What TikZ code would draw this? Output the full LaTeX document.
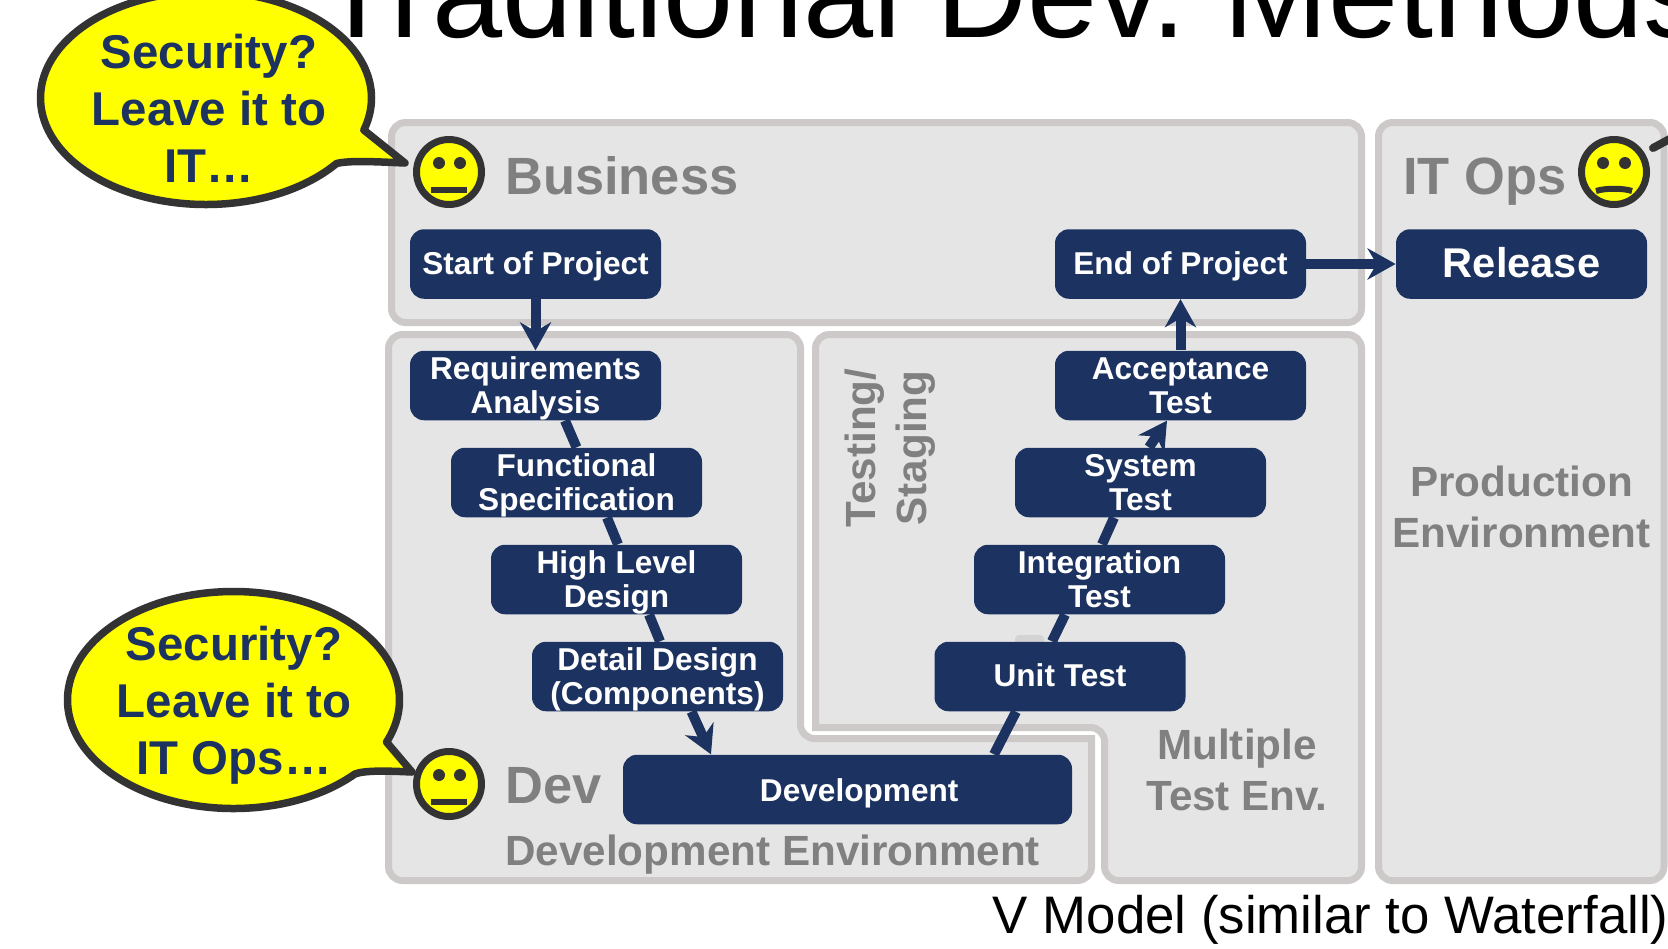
\documentclass[tikz,border=0pt]{standalone}
\usepackage{fontspec}
\setmainfont{Liberation Sans}
\usetikzlibrary{arrows.meta}
\definecolor{navy}{HTML}{1C3260}
\definecolor{panelfill}{HTML}{E5E5E5}
\definecolor{panelline}{HTML}{CDC9C9}
\definecolor{greytext}{HTML}{808080}
\definecolor{dark}{HTML}{333333}
\definecolor{bubbleyellow}{HTML}{FFFF00}
\newcommand{\lt}{\rule{0pt}{15.2pt}}
\newcommand{\lb}{\rule[-4pt]{0pt}{4pt}}
\newcommand{\lo}{\rule[-4pt]{0pt}{18pt}}
\tikzset{
  x=0.5pt,y=-0.5pt,
  panel/.style={draw=panelline,fill=panelfill,line width=3.5pt,rounded corners=7pt},
  stepbox/.style={fill=navy,text=white,font=\fontsize{15.8}{17}\selectfont\bfseries,align=center,rounded corners=7pt,
    minimum width=125.5pt,minimum height=34.75pt,inner xsep=0pt,inner ysep=-2pt,anchor=center},
  conn/.style={draw=navy,line width=5pt},
  arrowconn/.style={conn,-{Stealth[length=14pt,width=15.5pt,inset=4.5pt]}},
  lbl/.style={text=greytext,font=\fontsize{26.2}{30}\selectfont\bfseries,inner sep=0pt},
  envlbl/.style={text=greytext,font=\fontsize{21.1}{25.5}\selectfont\bfseries,inner sep=0pt,align=center},
  bubble/.style={draw=dark,fill=bubbleyellow,line width=3.75pt,line join=round},
  bubbletext/.style={text=navy,font=\fontsize{23.7}{28.5}\selectfont\bfseries,align=center,inner sep=0pt},
  face/.style={draw=dark,fill=bubbleyellow,line width=3.5pt},
  facepart/.style={fill=dark},
  mouth/.style={draw=dark,line width=3pt},
}
\begin{document}
\begin{tikzpicture}
\useasboundingbox (0,0) rectangle (1668,948);
\clip (0,0) rectangle (1668,948);
% title
\node[anchor=base west,inner sep=0pt,font=\fontsize{63}{70}\selectfont] (title) at (318,37) {Traditional Dev.\hspace{-4.8pt} Methods};
\node[anchor=base east,inner sep=0pt,font=\fontsize{26.4}{30}\selectfont] (vmodel) at (1669,933) {V Model (similar to Waterfall)};
% panels
\draw[panel] (391.5,122.5) rectangle (1361.5,322.5);
\draw[panel] (1378.5,122.5) rectangle (1664,880.5);
\draw[panel] (388.5,334.5) -- (800.5,334.5) -- (800.5,738.5) [sharp corners] -- (1091.5,738.5) [rounded corners=7pt] -- (1091.5,880.5) -- (388.5,880.5) -- cycle;
\draw[panel] (815.5,334.5) -- (1361.5,334.5) -- (1361.5,880.5) -- (1104.5,880.5) -- (1104.5,727.5) [sharp corners] -- (815.5,727.5) [rounded corners=7pt] -- cycle;
\fill[panelfill!92!black,rounded corners=2pt] (1015,635) rectangle (1044,645);
% step boxes
\node[stepbox] (start) at (535.5,264) {\lo Start of Project};
\node[stepbox] (req) at (535.5,385.5) {\lt Requirements\\Analysis\lb};
\node[stepbox] (func) at (576.5,482.5) {\lt Functional\\Specification\lb};
\node[stepbox] (high) at (616.5,579.5) {\lt High Level\\Design\lb};
\node[stepbox] (detail) at (657.5,676.5) {\lt Detail Design\\(Components)\lb};
\node[stepbox,minimum width=224.5pt] (dev) at (847.5,789.5) {\hspace*{11.7pt}\rule[-4pt]{0pt}{20pt}Development};
\node[stepbox] (unit) at (1060,676.5) {\lo Unit Test};
\node[stepbox] (integ) at (1099.5,579.5) {\lt Integration\\Test\lb};
\node[stepbox] (sys) at (1140.5,482.5) {\lt System\\Test\lb};
\node[stepbox] (accept) at (1180.5,385.5) {\lt Acceptance\\Test\lb};
\node[stepbox] (endp) at (1180.5,264) {\lo End of Project};
\node[stepbox,font=\fontsize{20.8}{24}\selectfont\bfseries] (release) at (1521.5,264) {\rule[-2pt]{0pt}{16pt}Release};
% connectors
\draw[arrowconn] (start.south) -- (req.north);
\draw[conn] ([xshift=14.75pt]req.south) -- ([xshift=0pt]func.north);
\draw[conn] ([xshift=15.25pt]func.south) -- ([xshift=0.75pt]high.north);
\draw[conn] ([xshift=16.25pt]high.south) -- ([xshift=1.25pt]detail.north);
\draw[arrowconn] ([xshift=17pt]detail.south) -- ([xshift=-68.25pt]dev.north);
\draw[conn] ([xshift=73.25pt]dev.north) -- ([xshift=-22pt]unit.south);
\draw[conn] ([xshift=-4pt]unit.north) -- ([xshift=-17.25pt]integ.south);
\draw[conn] ([xshift=1.25pt]integ.north) -- ([xshift=-13.25pt]sys.south);
\draw[arrowconn] ([xshift=4.25pt]sys.north) -- ([xshift=-6.75pt]accept.south);
\draw[arrowconn] (accept.north) -- (endp.south);
\draw[arrowconn] (endp.east) -- (release.west);
% panel labels
\node[lbl,anchor=base west] (business) at (505,194) {Business};
\node[lbl,anchor=base west] (itops) at (1403,194) {IT Ops};
\node[lbl,anchor=base west] (devl) at (505,803) {Dev};
\node[envlbl,anchor=base west] (devenv) at (505,865) {Development Environment};
\node[envlbl] (prod) at (1521.5,507) {Production\\Environment};
\node[envlbl] (multi) at (1237,770) {Multiple\\Test Env.};
\node[envlbl,rotate=90] (test) at (890.5,448) {Testing/\\Staging};
% faces
\draw[face] (449,172) circle[radius=32.5];
\fill[facepart] (439,163) circle[radius=6] (460,163) circle[radius=6];
\draw[mouth] (431,190) -- (467,190);
\draw[face] (449,784) circle[radius=32.5];
\fill[facepart] (439,775) circle[radius=6] (460,775) circle[radius=6];
\draw[mouth] (431,802) -- (467,802);
\draw[face] (1614,172) circle[radius=32.5];
\fill[facepart] (1603,163) circle[radius=6] (1625,163) circle[radius=6];
\draw[mouth] (1596,191) .. controls (1605,188) and (1623,188) .. (1632,191);
% bubbles
\draw[bubble] (206,98) ++(38:165.5 and 106.5) arc[start angle=38,end angle=377.5,x radius=165.5,y radius=106.5]
  -- (405,163) .. controls (380,162) and (350,160) .. cycle;
\node[bubbletext] (b1) at (209,108) {Security?\\Leave it to\\IT…};
\draw[bubble] (233.5,700) ++(43:166 and 108.5) arc[start angle=43,end angle=382.8,x radius=166,y radius=108.5]
  -- (412,772) .. controls (390,771) and (365,770) .. cycle;
\node[bubbletext] (b2) at (234,705) {Security?\\Leave it to\\IT Ops…};
\draw[draw=dark,line width=4pt,line cap=round] (1653,148) -- (1690,128);
\end{tikzpicture}
\end{document}
